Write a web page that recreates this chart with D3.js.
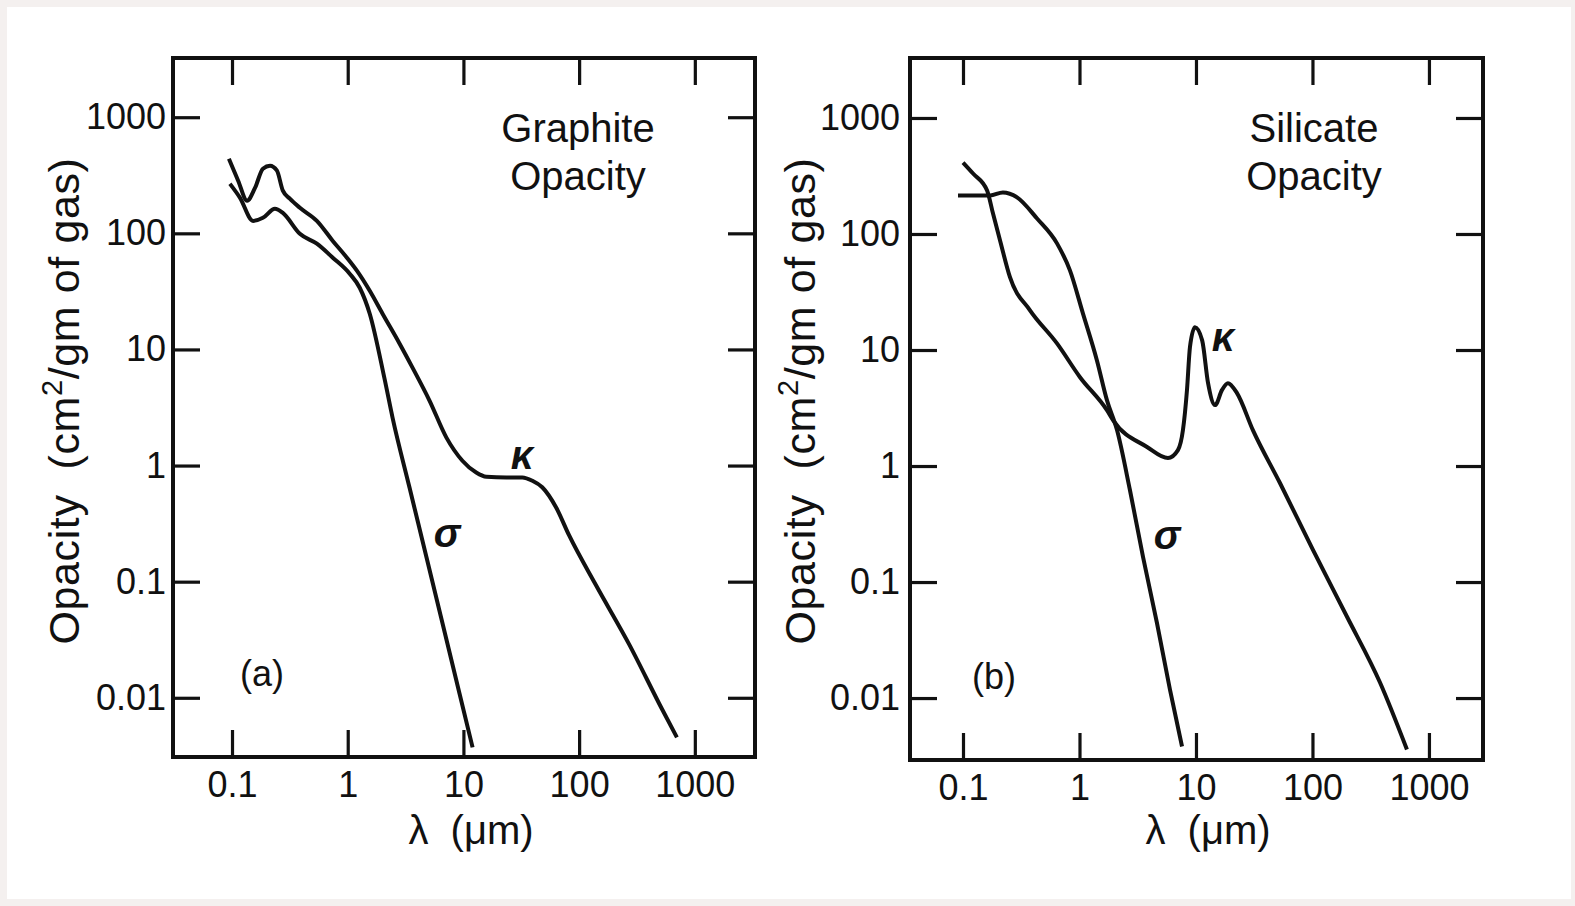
<!DOCTYPE html>
<html>
<head>
<meta charset="utf-8">
<script src="https://cdn.jsdelivr.net/npm/d3@7"></script>
<style>
  html, body { margin: 0; padding: 0; background: #f4f0ef; }
  svg { display: block; }
  text { font-family: "Liberation Sans", Arial, sans-serif; fill: #111; }
</style>
</head>
<body>
<svg id="chart" width="1575" height="906"></svg>
<script>
// ---------------- DATA ----------------
const xTickValues = [0.1, 1, 10, 100, 1000];
const xTickLabels = ["0.1", "1", "10", "100", "1000"];
const yTickValues = [0.01, 0.1, 1, 10, 100, 1000];
const yTickLabels = ["0.01", "0.1", "1", "10", "100", "1000"];

// Panel (a) Graphite — kappa
const graphiteKappaLambda = [0.094, 0.113, 0.135, 0.158, 0.185, 0.213, 0.244, 0.275, 0.316, 0.386, 0.541, 0.743, 0.98, 1.20, 1.55, 2.0, 2.81, 3.63, 5.09, 7.13, 9.8, 12.9, 15.8, 23.5, 32.3, 39.4, 48, 63.3, 82, 140, 270, 520, 700];
const graphiteKappaValue  = [438, 284, 191, 246, 360, 382, 348, 233, 199, 166, 128, 86, 62, 47.7, 32, 20.3, 11.2, 6.97, 3.63, 1.74, 1.10, 0.87, 0.80, 0.79, 0.79, 0.74, 0.65, 0.435, 0.25, 0.093, 0.029, 0.0080, 0.00456];
// Panel (a) Graphite — sigma
const graphiteSigmaLambda = [0.096, 0.117, 0.152, 0.185, 0.235, 0.275, 0.386, 0.541, 0.743, 1.04, 1.27, 1.55, 2.08, 2.44, 3.42, 4.8, 6.73, 9.25, 12.0];
const graphiteSigmaValue  = [267, 203, 128, 136, 163, 150, 99, 81.4, 61.7, 44.9, 34, 20.3, 5.6, 2.59, 0.647, 0.1615, 0.0403, 0.0109, 0.00374];

// Panel (b) Silicate — kappa
const silicateKappaLambda = [0.1, 0.122, 0.161, 0.181, 0.208, 0.253, 0.376, 0.641, 1.01, 1.72, 1.94, 3.80, 5.75, 7.0, 7.73, 8.37, 8.88, 9.8, 11.3, 12.7, 14.6, 16.7, 18.8, 22.5, 30.8, 52.6, 101, 198, 380, 647];
const silicateKappaValue  = [413, 332, 237, 150, 88, 42.4, 22, 11.4, 5.83, 3.03, 2.49, 1.46, 1.17, 1.37, 2.04, 4.51, 10.6, 15.7, 12.1, 5.18, 3.35, 4.51, 5.18, 4.25, 2.04, 0.714, 0.189, 0.0502, 0.0136, 0.0036];
// Panel (b) Silicate — sigma
const silicateSigmaLambda = [0.0906, 0.127, 0.171, 0.22, 0.291, 0.432, 0.641, 0.828, 1.07, 1.41, 1.72, 2.10, 2.71, 3.51, 4.62, 5.98, 7.59];
const silicateSigmaValue  = [215, 215, 215, 228, 207, 136, 83, 48.6, 20.7, 8.17, 3.70, 2.04, 0.621, 0.165, 0.0446, 0.0118, 0.00382];

const panelTitles = [["Graphite", "Opacity"], ["Silicate", "Opacity"]];
const panelTags = ["(a)", "(b)"];

// ---------------- DRAW ----------------
const svg = d3.select("#chart");
svg.append("rect").attr("x", 7).attr("y", 7).attr("width", 1564).attr("height", 892).attr("fill", "#fff");

const panels = [
  {
    left: 173, right: 755, top: 58, bottom: 757,
    xd: [Math.pow(10, -1.51), Math.pow(10, 3.52)],
    yd: [Math.pow(10, -2.51), Math.pow(10, 3.51)],
    kappa: [graphiteKappaLambda, graphiteKappaValue],
    sigma: [graphiteSigmaLambda, graphiteSigmaValue],
    title: panelTitles[0], titleX: 578,
    tag: panelTags[0], tagX: 262, tagY: 673,
    kLab: [522, 457], sLab: [447, 535],
    yLabX: 79, xLabX: 471, yPad: 7
  },
  {
    left: 910, right: 1483, top: 58, bottom: 760,
    xd: [Math.pow(10, -1.455), Math.pow(10, 3.464)],
    yd: [Math.pow(10, -2.534), Math.pow(10, 3.517)],
    kappa: [silicateKappaLambda, silicateKappaValue],
    sigma: [silicateSigmaLambda, silicateSigmaValue],
    title: panelTitles[1], titleX: 1314,
    tag: panelTags[1], tagX: 994, tagY: 676,
    kLab: [1223, 339], sLab: [1167, 537],
    yLabX: 815, xLabX: 1208, yPad: 10
  }
];

panels.forEach(p => {
  const x = d3.scaleLog().domain(p.xd).range([p.left, p.right]);
  const y = d3.scaleLog().domain(p.yd).range([p.bottom, p.top]);
  const g = svg.append("g");
  const tickLen = 27;

  const fmtX = v => xTickLabels[xTickValues.indexOf(v)];
  const fmtY = v => yTickLabels[yTickValues.indexOf(v)];

  const styleAxis = sel => {
    sel.select(".domain").remove();
    sel.selectAll(".tick line").attr("stroke", "#111").attr("stroke-width", 3.2);
    sel.selectAll(".tick text").attr("fill", "#111").style("font-size", "36px")
      .style("font-family", "'Liberation Sans', Arial, sans-serif");
  };

  g.append("g").attr("transform", `translate(0,${p.bottom})`)
    .call(d3.axisBottom(x).tickValues(xTickValues).tickFormat(fmtX).tickSize(-tickLen).tickPadding(15))
    .call(styleAxis)
    .call(s => s.selectAll(".tick text").attr("y", 14).attr("dy", "0.71em"));
  g.append("g").attr("transform", `translate(0,${p.top})`)
    .call(d3.axisTop(x).tickValues(xTickValues).tickFormat("").tickSize(-tickLen))
    .call(styleAxis);
  g.append("g").attr("transform", `translate(${p.left},0)`)
    .call(d3.axisLeft(y).tickValues(yTickValues).tickFormat(fmtY).tickSize(-tickLen).tickPadding(p.yPad))
    .call(styleAxis)
    .call(s => s.selectAll(".tick text").attr("x", -p.yPad));
  g.append("g").attr("transform", `translate(${p.right},0)`)
    .call(d3.axisRight(y).tickValues(yTickValues).tickFormat("").tickSize(-tickLen))
    .call(styleAxis);

  // frame
  g.append("rect").attr("x", p.left).attr("y", p.top)
    .attr("width", p.right - p.left).attr("height", p.bottom - p.top)
    .attr("fill", "none").attr("stroke", "#111").attr("stroke-width", 4);

  const line = d3.line().x(d => x(d[0])).y(d => y(d[1])).curve(d3.curveMonotoneX);
  [p.kappa, p.sigma].forEach(s => {
    const pts = s[0].map((l, i) => [l, s[1][i]]);
    g.append("path").datum(pts).attr("d", line)
      .attr("fill", "none").attr("stroke", "#111").attr("stroke-width", 4)
      .attr("stroke-linejoin", "round").attr("stroke-linecap", "butt");
  });

  // title
  const t = g.append("text").attr("text-anchor", "middle").style("font-size", "40px");
  t.append("tspan").attr("x", p.titleX).attr("y", 142).text(p.title[0]);
  t.append("tspan").attr("x", p.titleX).attr("y", 190).text(p.title[1]);

  // panel tag
  g.append("text").attr("x", p.tagX).attr("y", p.tagY).attr("dy", "0.35em")
    .attr("text-anchor", "middle").style("font-size", "36px").text(p.tag);

  // curve labels
  g.append("text").attr("x", p.kLab[0]).attr("y", p.kLab[1]).attr("dy", "0.3em")
    .attr("text-anchor", "middle").style("font-size", "40px").style("font-style", "italic")
    .style("font-weight", "bold").text("κ");
  g.append("text").attr("x", p.sLab[0]).attr("y", p.sLab[1]).attr("dy", "0.3em")
    .attr("text-anchor", "middle").style("font-size", "40px").style("font-style", "italic")
    .style("font-weight", "bold").text("σ");

  // y label
  const yl = g.append("text").attr("transform", `translate(${p.yLabX},401) rotate(-90)`)
    .attr("text-anchor", "middle").style("font-size", "43px").style("letter-spacing", "0.6px");
  yl.append("tspan").text("Opacity\u00a0 (cm");
  yl.append("tspan").attr("dy", -17).style("font-size", "29px").text("2");
  yl.append("tspan").attr("dy", 17).text("/gm of gas)");

  // x label
  g.append("text").attr("x", p.xLabX).attr("y", 844).attr("text-anchor", "middle")
    .style("font-size", "40px").text("λ\u00a0 (μm)");
});
</script>
</body>
</html>
